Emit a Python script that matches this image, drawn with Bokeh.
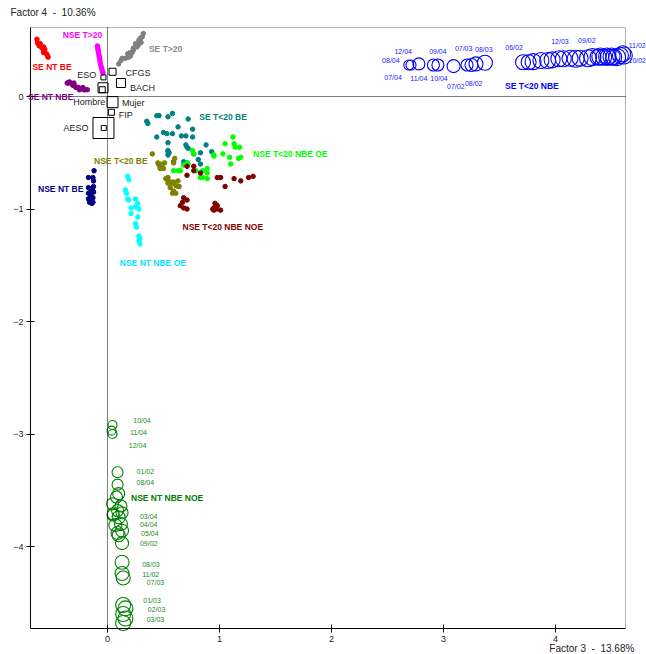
from bokeh.plotting import figure
from bokeh.models import (ColumnDataSource, LabelSet, FixedTicker, Range1d,
                          LinearAxis, BoxAnnotation)
from bokeh.core.properties import value
from bokeh.embed import file_html
from bokeh.resources import INLINE

FONT = "Liberation Sans"

# ---------------- data ----------------
x_ticks = [0, 1, 2, 3, 4]
y_ticks = [0, -1, -2, -3, -4]
x_lo, x_hi = -0.6875, 4.625      # extent of the plot box
y_lo, y_hi = -4.729, 0.613

se_nt_be_x = [-0.63, -0.625, -0.62, -0.61, -0.59, -0.58, -0.57, -0.57, -0.56, -0.545, -0.535, -0.53, -0.60, -0.58, -0.57]
se_nt_be_y = [0.51, 0.48, 0.47, 0.45, 0.44, 0.43, 0.41, 0.39, 0.42, 0.38, 0.36, 0.35, 0.47, 0.44, 0.44]

nse_t20_x = [-0.09, -0.088, -0.085, -0.08, -0.078, -0.075, -0.07, -0.068, -0.065, -0.06, -0.055, -0.05, -0.045, -0.04, -0.083, -0.072]
nse_t20_y = [0.45, 0.44, 0.42, 0.40, 0.38, 0.36, 0.34, 0.32, 0.30, 0.28, 0.26, 0.24, 0.22, 0.21, 0.41, 0.35]

se_t20_x = [0.32, 0.31, 0.295, 0.30, 0.28, 0.27, 0.26, 0.23, 0.22, 0.20, 0.18, 0.19, 0.16, 0.13, 0.12, 0.10, 0.205, 0.25, 0.28, 0.23]
se_t20_y = [0.56, 0.53, 0.52, 0.48, 0.47, 0.45, 0.44, 0.41, 0.39, 0.39, 0.38, 0.35, 0.34, 0.34, 0.32, 0.29, 0.36, 0.47, 0.50, 0.43]

se_nt_nbe_x = [-0.36, -0.35, -0.33, -0.31, -0.30, -0.29, -0.27, -0.26, -0.24, -0.22, -0.21, -0.20, -0.18, -0.34, -0.30, -0.28, -0.25]
se_nt_nbe_y = [0.12, 0.12, 0.12, 0.10, 0.10, 0.09, 0.08, 0.08, 0.07, 0.08, 0.06, 0.06, 0.06, 0.13, 0.12, 0.08, 0.06]

se_t_lt20_be_x = [0.35, 0.36, 0.44, 0.46, 0.54, 0.58, 0.72, 0.63, 0.50, 0.53, 0.58, 0.66, 0.70, 0.76, 0.76, 0.44, 0.54,
                  0.70, 0.71, 0.72, 0.88, 0.54, 0.54, 0.55, 0.77, 0.83, 0.93, 0.54, 0.59, 0.68, 0.71, 0.81, 0.83]
se_t_lt20_be_y = [-0.22, -0.24, -0.17, -0.17, -0.18, -0.15, -0.20, -0.27, -0.32, -0.33, -0.33, -0.35, -0.35, -0.29, -0.36, -0.36, -0.41,
                  -0.43, -0.45, -0.46, -0.43, -0.48, -0.49, -0.50, -0.51, -0.50, -0.49, -0.52, -0.58, -0.58, -0.59, -0.56, -0.60]

nse_lt20_nbe_oe_x = [1.12, 1.05, 1.13, 1.14, 1.18, 1.19, 1.17, 1.10, 1.09, 1.03, 0.95, 0.95, 0.85, 0.89, 0.89, 0.85, 0.89,
                     0.71, 0.72, 0.68, 0.65, 0.59, 0.63, 0.76, 0.77, 0.83, 0.79]
nse_lt20_nbe_oe_y = [-0.36, -0.42, -0.42, -0.45, -0.45, -0.54, -0.55, -0.60, -0.54, -0.51, -0.52, -0.53, -0.66, -0.64, -0.68, -0.72, -0.73,
                     -0.59, -0.60, -0.61, -0.66, -0.66, -0.66, -0.48, -0.51, -0.72, -0.66]

nse_lt20_nbe_noe_x = [0.71, 0.77, 0.77, 0.71, 0.83, 0.98, 1.01, 1.05, 1.13, 1.19, 1.26, 1.30, 0.68, 0.67, 0.65, 0.68, 0.71,
                      0.71, 0.95, 0.96, 0.98, 0.95, 1.01, 0.98, 0.94]
nse_lt20_nbe_noe_y = [-0.62, -0.62, -0.66, -0.70, -0.68, -0.72, -0.72, -0.80, -0.73, -0.75, -0.72, -0.71, -0.90, -0.94, -0.97, -0.99, -0.92,
                      -1.00, -0.99, -0.95, -0.97, -1.01, -1.01, -1.00, -1.00]

nse_lt20_be_x = [0.40, 0.45, 0.46, 0.47, 0.49, 0.50, 0.51, 0.47, 0.54, 0.54, 0.56, 0.58, 0.59, 0.61, 0.63, 0.56, 0.59,
                 0.58, 0.61, 0.54, 0.52, 0.63, 0.64, 0.59, 0.60]
nse_lt20_be_y = [-0.51, -0.59, -0.61, -0.60, -0.63, -0.64, -0.59, -0.64, -0.72, -0.75, -0.76, -0.77, -0.76, -0.79, -0.80, -0.81, -0.84,
                 -0.86, -0.86, -0.77, -0.73, -0.75, -0.80, -0.59, -0.55]

nse_nt_be_x = [-0.12, -0.17, -0.13, -0.125, -0.17, -0.15, -0.125, -0.17, -0.15, -0.13, -0.17, -0.15, -0.13, -0.14, -0.16, -0.125, -0.13]
nse_nt_be_y = [-0.66, -0.72, -0.72, -0.75, -0.81, -0.82, -0.80, -0.86, -0.88, -0.90, -0.91, -0.92, -0.94, -0.95, -0.94, -0.85, -0.84]

nse_nt_nbe_oe_x = [0.18, 0.19, 0.16, 0.17, 0.18, 0.19, 0.25, 0.27, 0.25, 0.28, 0.21, 0.21, 0.27, 0.25, 0.26, 0.28, 0.29, 0.29, 0.28]
nse_nt_nbe_oe_y = [-0.71, -0.74, -0.83, -0.86, -0.91, -0.92, -0.91, -0.95, -0.98, -1.00, -0.99, -1.04, -1.07, -1.13, -1.16, -1.24, -1.26, -1.31, -1.28]

# SE T<20 NBE (blue circles, sized by weight)
blue_x = [2.69, 2.71, 2.78, 2.91, 2.95, 3.09, 3.21, 3.25, 3.29, 3.37,
          3.71, 3.76, 3.80, 3.87, 3.93, 3.97, 4.03, 4.07, 4.13, 4.18, 4.22, 4.29,
          4.33, 4.38, 4.40, 4.43, 4.46, 4.47, 4.50, 4.52, 4.55, 4.58, 4.61, 4.60]
blue_y = [0.28, 0.28, 0.29, 0.28, 0.28, 0.27, 0.28, 0.28, 0.29, 0.30,
          0.305, 0.305, 0.31, 0.32, 0.32, 0.326, 0.335, 0.335, 0.34, 0.335, 0.34, 0.34,
          0.35, 0.35, 0.355, 0.35, 0.355, 0.35, 0.355, 0.35, 0.35, 0.364, 0.364, 0.38]
blue_w = [10, 10, 12, 12, 12, 13, 12, 13, 14, 15,
          15, 15, 16, 16, 16, 16, 16, 16, 16, 17, 16, 17,
          17, 16, 17, 16, 17, 16, 17, 16, 17, 16, 17, 16]

blue_dates = ["12/04", "08/04", "07/04", "11/04", "09/04", "10/04", "07/03", "08/03", "07/02", "08/02",
              "06/02", "12/03", "09/02", "11/02", "10/02"]
blue_dx = [2.64, 2.53, 2.55, 2.78, 2.95, 2.96, 3.18, 3.36, 3.11, 3.27, 3.63, 4.04, 4.28, 4.73, 4.73]
blue_dy = [0.40, 0.32, 0.17, 0.16, 0.40, 0.16, 0.43, 0.42, 0.09, 0.12, 0.44, 0.49, 0.50, 0.45, 0.32]

# NSE NT NBE NOE (green circles)
green_x = [0.045, 0.036, 0.045, 0.09, 0.09, 0.10, 0.08, 0.045, 0.12, 0.09, 0.05, 0.13, 0.05, 0.10,
           0.12, 0.07, 0.13, 0.10, 0.09, 0.13, 0.13, 0.13, 0.14, 0.14, 0.16, 0.14, 0.16, 0.14]
green_y = [-2.92, -2.97, -3.00, -3.34, -3.45, -3.53, -3.56, -3.62, -3.64, -3.68, -3.71, -3.70, -3.72, -3.74,
           -3.80, -3.81, -3.86, -3.90, -3.88, -3.97, -4.14, -4.24, -4.28, -4.52, -4.55, -4.60, -4.64, -4.68]
green_w = [9, 9, 9, 11, 11, 12, 12, 12, 12, 12, 12, 12, 12, 13,
           13, 13, 13, 13, 13, 13, 14, 14, 14, 15, 15, 15, 15, 15]

green_dates = ["10/04", "11/04", "12/04", "01/02", "08/04", "03/04", "04/04", "05/04", "09/02",
               "08/03", "11/02", "07/03", "01/03", "02/03", "03/03"]
green_dx = [0.23, 0.20, 0.19, 0.26, 0.26, 0.29, 0.29, 0.30, 0.29, 0.31, 0.31, 0.35, 0.32, 0.36, 0.35]
green_dy = [-2.88, -2.99, -3.10, -3.33, -3.43, -3.73, -3.80, -3.88, -3.97, -4.16, -4.25, -4.32, -4.48, -4.56, -4.65]

# supplementary categories (squares)
sq_x = [-0.036, 0.045, 0.12, -0.04, -0.047, 0.045, 0.035, -0.036, -0.033]
sq_y = [0.17, 0.22, 0.12, 0.078, 0.06, -0.05, -0.14, -0.28, -0.28]
sq_w = [5, 7, 9, 10, 6, 11, 6, 21, 5]

sq_left_names = ["CFGS", "BACH", "Mujer", "FIP"]
sq_left_x = [0.16, 0.20, 0.13, 0.10]
sq_left_y = [0.21, 0.08, -0.06, -0.16]
sq_right_names = ["ESO", "Hombre", "AESO"]
sq_right_x = [-0.10, -0.02, -0.17]
sq_right_y = [0.19, -0.05, -0.28]

cat_names = ["NSE T>20", "SE T>20", "SE NT BE", "SE NT NBE", "SE T<20 BE", "NSE T<20 NBE OE",
             "NSE T<20 BE", "NSE NT BE", "NSE T<20 NBE NOE", "NSE NT NBE OE", "SE T<20 NBE", "NSE NT NBE NOE"]
cat_x = [-0.40, 0.37, -0.67, -0.71, 0.82, 1.30, -0.12, -0.62, 0.67, 0.11, 3.55, 0.21]
cat_y = [0.55, 0.42, 0.26, 0.0, -0.18, -0.51, -0.57, -0.82, -1.16, -1.48, 0.09, -3.57]
cat_colors = ["#FF00FF", "#8C8C8C", "#FF0000", "#800080", "#008080", "#00FF00",
              "#808000", "#000080", "#800000", "#00E5FF", "#0000FF", "#008000"]

axis_titles = ["Factor 4\u00a0 -\u00a0 10.36%", "Factor 3\u00a0 -\u00a0 13.68%"]
axis_title_x = [-0.866, 3.945]
axis_title_y = [0.747, -4.907]

# ---------------- figure ----------------
# the frame fills the whole canvas; the axes are pinned to the box edges
p = figure(width=646, height=654,
           x_range=Range1d(-107 / 112, 539 / 112), y_range=Range1d(-558 / 112.5, 96 / 112.5),
           output_backend="svg", toolbar_location=None,
           min_border_left=0, min_border_right=0, min_border_top=0, min_border_bottom=0)
p.background_fill_color = "white"
p.border_fill_color = "white"
p.outline_line_color = None
p.xgrid.visible = False
p.ygrid.visible = False

p.xaxis.ticker = FixedTicker(ticks=x_ticks)
p.yaxis.ticker = FixedTicker(ticks=y_ticks)
p.xaxis.fixed_location = y_lo
p.yaxis.fixed_location = x_lo
p.xaxis.bounds = (x_lo, x_hi)
p.yaxis.bounds = (y_lo, y_hi)
for ax in (p.xaxis[0], p.yaxis[0]):
    ax.axis_line_color = "black"
    ax.major_tick_line_color = "black"
    ax.major_tick_in = 4
    ax.major_tick_out = 4
    ax.minor_tick_line_color = None
    ax.major_label_text_font = FONT
    ax.major_label_text_font_size = "9px"
    ax.major_label_text_color = "#222222"
    ax.major_label_standoff = 3

# box around the plot area
p.add_layout(BoxAnnotation(left=x_lo, right=x_hi, bottom=y_lo, top=y_hi,
                           fill_alpha=0, line_color="black", line_width=1))

# dotted origin lines (axes pinned at 0, no ticks)
vline = LinearAxis(fixed_location=0, bounds=(y_lo, y_hi), ticker=FixedTicker(ticks=[]),
                   axis_line_color="black", axis_line_dash="1 1",
                   major_tick_line_color=None, minor_tick_line_color=None,
                   major_label_text_font_size="0px")
hline = LinearAxis(fixed_location=0, bounds=(x_lo, x_hi), ticker=FixedTicker(ticks=[]),
                   axis_line_color="black", axis_line_dash="1 1",
                   major_tick_line_color=None, minor_tick_line_color=None,
                   major_label_text_font_size="0px")
p.add_layout(vline, "left")
p.add_layout(hline, "below")

dot = 4.5
p.scatter(se_nt_be_x, se_nt_be_y, size=dot, color="#FF0000")
p.scatter(nse_t20_x, nse_t20_y, size=dot, color="#FF00FF")
p.scatter(se_t20_x, se_t20_y, size=dot, color="#808080")
p.scatter(se_nt_nbe_x, se_nt_nbe_y, size=dot, color="#800080")
p.scatter(se_t_lt20_be_x, se_t_lt20_be_y, size=dot, color="#008080")
p.scatter(nse_lt20_nbe_oe_x, nse_lt20_nbe_oe_y, size=dot, color="#00FF00")
p.scatter(nse_lt20_nbe_noe_x, nse_lt20_nbe_noe_y, size=dot, color="#800000")
p.scatter(nse_lt20_be_x, nse_lt20_be_y, size=dot, color="#808000")
p.scatter(nse_nt_be_x, nse_nt_be_y, size=dot, color="#000080")
p.scatter(nse_nt_nbe_oe_x, nse_nt_nbe_oe_y, size=dot, color="#00FFFF")

p.scatter(x=blue_x, y=blue_y, size=blue_w, marker="circle", fill_color=None,
          line_color="#0000FF", line_width=1.1)
p.scatter(x=green_x, y=green_y, size=green_w, marker="circle", fill_color=None,
          line_color="#008000", line_width=1.1)
p.scatter(x=sq_x, y=sq_y, size=sq_w, marker="square", fill_color=None,
          line_color="black", line_width=1)

f = value(FONT)
p.add_layout(LabelSet(source=ColumnDataSource(dict(x=blue_dx, y=blue_dy, t=blue_dates)),
                      x="x", y="y", text="t", text_font=f, text_font_size="7px",
                      text_color="#2020FF", text_align="center", text_baseline="middle"))
p.add_layout(LabelSet(source=ColumnDataSource(dict(x=green_dx, y=green_dy, t=green_dates)),
                      x="x", y="y", text="t", text_font=f, text_font_size="7px",
                      text_color="#1A8A1A", text_align="left", text_baseline="middle"))
p.add_layout(LabelSet(source=ColumnDataSource(dict(x=sq_left_x, y=sq_left_y, t=sq_left_names)),
                      x="x", y="y", text="t", text_font=f, text_font_size="9px",
                      text_color="#222222", text_align="left", text_baseline="middle"))
p.add_layout(LabelSet(source=ColumnDataSource(dict(x=sq_right_x, y=sq_right_y, t=sq_right_names)),
                      x="x", y="y", text="t", text_font=f, text_font_size="9px",
                      text_color="#222222", text_align="right", text_baseline="middle"))
p.add_layout(LabelSet(source=ColumnDataSource(dict(x=cat_x, y=cat_y, t=cat_names, c=cat_colors)),
                      x="x", y="y", text="t", text_font=f, text_font_size="8.5px",
                      text_font_style="bold", text_color="c", text_align="left", text_baseline="middle"))
p.add_layout(LabelSet(source=ColumnDataSource(dict(x=axis_title_x, y=axis_title_y, t=axis_titles)),
                      x="x", y="y", text="t", text_font=f, text_font_size="10px",
                      text_color="#222222", text_align="left", text_baseline="middle"))

open("out.html", "w").write(file_html(p, INLINE))
